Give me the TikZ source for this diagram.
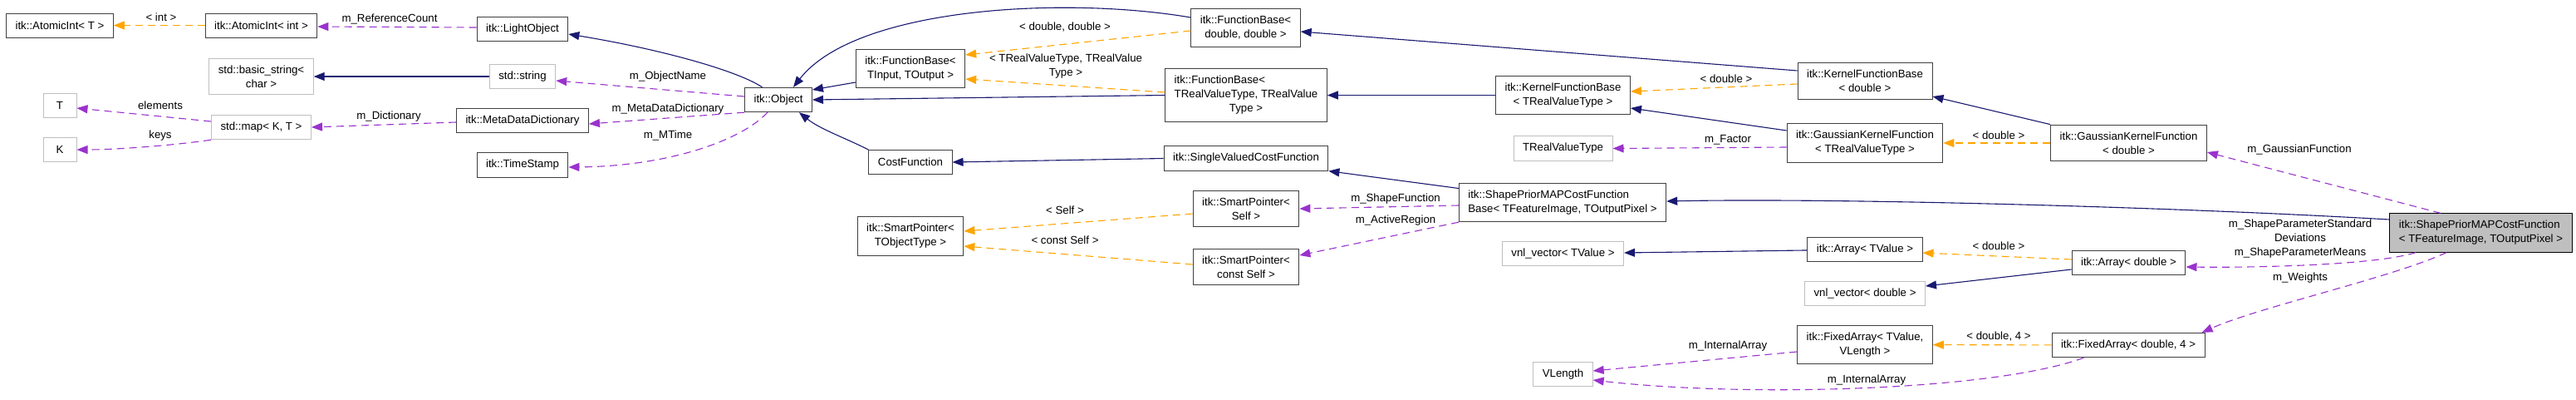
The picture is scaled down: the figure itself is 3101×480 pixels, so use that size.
\documentclass[tikz,border=0pt]{standalone}
\usepackage{fontspec}
\setmainfont{Liberation Sans}
\usepackage{tikz}
\usetikzlibrary{arrows.meta}
\usepackage{xcolor}
\definecolor{inhblue}{HTML}{191970}
\definecolor{tmplorange}{HTML}{FFA500}
\definecolor{usepurple}{HTML}{9A32CD}
\definecolor{boxgray}{HTML}{BFBFBF}
\newcommand{\dgfont}{\fontsize{13.25}{17}\selectfont}

\begin{document}
\begin{tikzpicture}[
    x=1pt, y=-1pt,
    every node/.style={font=\dgfont},
    cls/.style={rectangle, draw=black!75, fill=white, line width=1pt, inner xsep=11pt, inner ysep=8.5pt, minimum height=29pt, align=center},
    ext/.style={cls, draw=boxgray},
    self/.style={cls, draw=black, fill=boxgray},
    inh/.style={draw=inhblue, line width=1.1pt, -{Triangle[length=13pt, width=10pt]}},
    tmpl/.style={draw=tmplorange, line width=1.1pt, dash pattern=on 9pt off 6pt, -{Triangle[length=13pt, width=10pt]}},
    mem/.style={draw=usepurple, line width=1.1pt, dash pattern=on 9pt off 6pt, -{Triangle[length=13pt, width=10pt]}},
    lbl/.style={inner sep=0pt, align=center}
]
\path[use as bounding box, fill=white] (0,0) rectangle (3101,480);

% Left columns
\node[cls] (atomt) at (72,30.5) {itk::AtomicInt< T >};
\node[ext, minimum width=40pt] (tnode) at (72,127) {T};
\node[ext, minimum width=40pt] (knode) at (72,180) {K};
\node[cls] (aint) at (314.5,30.5) {itk::AtomicInt< int >};
\node[ext] (bstr) at (314.5,92) {std::basic\_string<\\char >};
\node[ext] (smap) at (314.5,153) {std::map< K, T >};
\node[cls] (lobj) at (629,35) {itk::LightObject};
\node[ext] (stdstr) at (629,92) {std::string};
\node[cls] (mdd) at (629,145) {itk::MetaDataDictionary};
\node[cls] (tstamp) at (629,198.5) {itk::TimeStamp};
\node[cls] (obj) at (937,120) {itk::Object};

% Function bases and smart pointers
\node[cls] (fbio) at (1096,82.5) {itk::FunctionBase<\\TInput, TOutput >};
\node[cls] (cost) at (1096,195) {CostFunction};
\node[cls] (sptobj) at (1096,284) {itk::SmartPointer<\\TObjectType >};
\node[cls] (fbdd) at (1499.5,33.5) {itk::FunctionBase<\\double, double >};
\node[cls] (fbrr) at (1500,114.5) {\rlap{itk::FunctionBase<}\phantom{TRealValueType, TRealValue}\\TRealValueType, TRealValue\\Type >};
\node[cls] (svcf) at (1500,190.5) {itk::SingleValuedCostFunction};
\node[cls] (spself) at (1500,251) {itk::SmartPointer<\\Self >};
\node[cls] (spcself) at (1500,321) {itk::SmartPointer<\\const Self >};

% Kernels, arrays
\node[cls] (kfbr) at (1881.5,114.5) {itk::KernelFunctionBase\\< TRealValueType >};
\node[ext] (trvt) at (1881.5,178.5) {TRealValueType};
\node[cls, align=left] (spbase) at (1881,243.5) {itk::ShapePriorMAPCostFunction\\Base< TFeatureImage, TOutputPixel >};
\node[ext] (vnlt) at (1881.5,305) {vnl\_vector< TValue >};
\node[ext] (vlen) at (1881.5,450) {VLength};
\node[cls] (kfbd) at (2245,97.5) {itk::KernelFunctionBase\\< double >};
\node[cls] (gkfr) at (2245,172) {itk::GaussianKernelFunction\\< TRealValueType >};
\node[cls] (arrt) at (2245,300) {itk::Array< TValue >};
\node[ext] (vnld) at (2245,353) {vnl\_vector< double >};
\node[cls] (fat) at (2245,414.5) {itk::FixedArray< TValue,\\VLength >};
\node[cls] (gkfd) at (2562.5,172) {itk::GaussianKernelFunction\\< double >};
\node[cls] (arrd) at (2562.5,316) {itk::Array< double >};
\node[cls] (fad) at (2562,415) {itk::FixedArray< double, 4 >};
\node[self, align=left] (main) at (2986.5,280) {itk::ShapePriorMAPCostFunction\\< TFeatureImage, TOutputPixel >};

% Inheritance
\draw[inh] ([xshift=-19.5pt]obj.north) .. controls +(-30,-20) and +(110,18) .. ([yshift=-6pt]lobj.east);
\draw[inh] (stdstr) -- (bstr);
\draw[inh] ([yshift=-16.5pt]fbio.west) -- ([yshift=12pt]obj.east);
\draw[inh] ([yshift=12.5pt]fbdd.west) .. controls +(-153,-26) and +(75,-96) .. ([xshift=18pt]obj.north);
\draw[inh] (fbrr.west) -- (obj.east);
\draw[inh] (cost.north west) .. controls +(-30,-15) and +(25,20) .. ([xshift=25pt]obj.south);
\draw[inh] (svcf.west) -- (cost.east);
\draw[inh] (kfbr) -- (fbrr);
\draw[inh] ([yshift=12.5pt]kfbd.west) -- ([yshift=-4.5pt]fbdd.east);
\draw[inh] ([yshift=15pt]gkfr.west) -- ([yshift=-15.5pt]kfbr.east);
\draw[inh] (gkfd.north west) -- ([yshift=-18.5pt]kfbd.east);
\draw[inh] ([yshift=17pt]spbase.west) -- (svcf.south east);
\draw[inh] ([yshift=16pt]main.west) .. controls +(-277,-16) and +(195,-4) .. ([yshift=1.5pt]spbase.east);
\draw[inh] (arrt) -- (vnlt);
\draw[inh] ([yshift=-8pt]arrd.west) -- ([yshift=9pt]vnld.east);

% Template instances
\draw[tmpl] (aint) -- (atomt);
\draw[tmpl] ([yshift=-3.5pt]fbdd.west) -- ([yshift=16.5pt]fbio.east);
\draw[tmpl] ([yshift=3.5pt]fbrr.west) -- ([yshift=-12.5pt]fbio.east);
\draw[tmpl] ([yshift=-6pt]spself.west) -- ([yshift=6pt]sptobj.east);
\draw[tmpl] ([yshift=3pt]spcself.west) -- ([yshift=-12pt]sptobj.east);
\draw[tmpl] ([yshift=-3.5pt]kfbd.west) -- ([yshift=4.5pt]kfbr.east);
\draw[tmpl] (gkfd) -- (gkfr);
\draw[tmpl] ([yshift=4pt]arrd.west) -- ([yshift=-4pt]arrt.east);
\draw[tmpl] (fad) -- (fat);

% Members
\draw[mem] ([yshift=2pt]lobj.west) -- ([yshift=-1.5pt]aint.east);
\draw[mem] ([yshift=4pt]obj.west) -- ([yshift=-5pt]stdstr.east);
\draw[mem] (obj.south west) -- ([yshift=-4pt]mdd.east);
\draw[mem] ([xshift=-13pt]obj.south) .. controls +(-34,36) and +(115,-1) .. ([yshift=-2.5pt]tstamp.east);
\draw[mem] ([yshift=-2pt]mdd.west) -- (smap.east);
\draw[mem] ([yshift=7pt]smap.west) -- ([yshift=-3pt]tnode.east);
\draw[mem] (smap.south west) .. controls +(-40,6) and +(50,0) .. (knode.east);
\draw[mem] ([yshift=-3.5pt]spbase.west) -- (spself.east);
\draw[mem] (spbase.south west) -- ([yshift=14pt]spcself.east);
\draw[mem] ([yshift=-5pt]gkfr.west) -- (trvt.east);
\draw[mem] ([xshift=-48.5pt]main.north) -- ([yshift=-11pt]gkfd.east);
\draw[mem] ([xshift=-78.5pt]main.south) .. controls +(-48,15) and +(88,1) .. ([yshift=-5pt]arrd.east);
\draw[mem] ([xshift=-41.5pt]main.south) .. controls +(-65,30) and +(70,-31) .. ([xshift=-4pt]fad.north east);
\draw[mem] ([yshift=-8.5pt]fat.west) -- ([yshift=4pt]vlen.east);
\draw[mem] ([xshift=39pt]fad.south west) .. controls +(-109,40) and +(183,21) .. ([yshift=-7pt]vlen.east);

% Edge labels
\node[lbl] (lint) at (194,21) {< int >};
\node[lbl] (lrefc) at (469,23) {m\_ReferenceCount};
\node[lbl] (lelem) at (193,127) {elements};
\node[lbl] (lkeys) at (193,163) {keys};
\node[lbl] (ldict) at (468,140) {m\_Dictionary};
\node[lbl] (lname) at (804,92) {m\_ObjectName};
\node[lbl] (lmdd) at (804,131) {m\_MetaDataDictionary};
\node[lbl] (lmtime) at (804,163) {m\_MTime};
\node[lbl] (ldd) at (1282,33) {< double, double >};
\node[lbl] (lrr) at (1283,79.5) {< TRealValueType, TRealValue\\Type >};
\node[lbl] (lself) at (1282,253) {< Self >};
\node[lbl] (lcself) at (1282,289) {< const Self >};
\node[lbl] (lshape) at (1680,239) {m\_ShapeFunction};
\node[lbl] (lregion) at (1680,265) {m\_ActiveRegion};
\node[lbl] (lkdbl) at (2078,95) {< double >};
\node[lbl] (lfactor) at (2080,168) {m\_Factor};
\node[lbl] (lgdbl) at (2406,163) {< double >};
\node[lbl] (ladbl) at (2406,296) {< double >};
\node[lbl] (lfa4) at (2406,405) {< double, 4 >};
\node[lbl] (linta) at (2080,416) {m\_InternalArray};
\node[lbl] (lintb) at (2247,457) {m\_InternalArray};
\node[lbl] (lgauss) at (2768,180) {m\_GaussianFunction};
\node[lbl] (lspm) at (2769,287) {m\_ShapeParameterStandard\\Deviations\\m\_ShapeParameterMeans};
\node[lbl] (lweights) at (2769,334) {m\_Weights};
\end{tikzpicture}
\end{document}
